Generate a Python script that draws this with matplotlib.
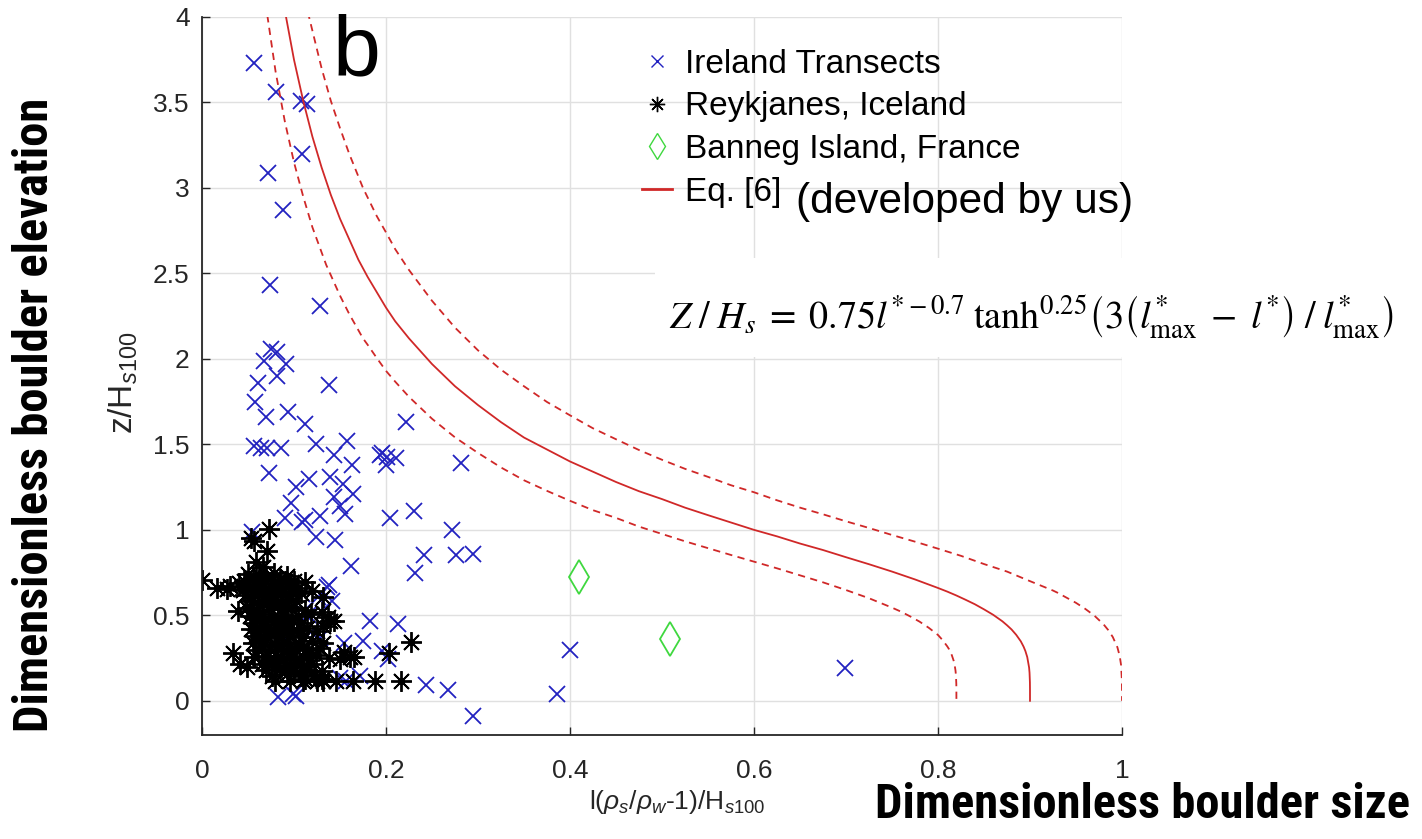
import numpy as np
import matplotlib.pyplot as plt
from matplotlib import font_manager
from matplotlib.lines import Line2D
from matplotlib.patches import Rectangle

plt.rcParams['font.family'] = ['Liberation Sans', 'DejaVu Sans']
plt.rcParams['mathtext.fontset'] = 'custom'
plt.rcParams['mathtext.rm'] = 'Liberation Sans'
plt.rcParams['mathtext.it'] = 'Liberation Sans:italic'
plt.rcParams['mathtext.bf'] = 'Liberation Sans:bold'

# Ireland transects (blue x)
ireland = [
    (0.057, 3.73), (0.080, 3.56), (0.108, 3.51), (0.114, 3.49), (0.109, 3.20), (0.072, 3.09),
    (0.088, 2.87), (0.074, 2.43), (0.128, 2.31),
    (0.075, 2.06), (0.082, 2.04), (0.067, 1.985), (0.091, 1.97), (0.082, 1.90), (0.061, 1.86),
    (0.138, 1.845), (0.058, 1.75), (0.070, 1.66), (0.094, 1.69), (0.112, 1.62), (0.222, 1.63),
    (0.056, 1.49), (0.064, 1.48), (0.071, 1.48), (0.086, 1.48), (0.124, 1.50), (0.158, 1.52),
    (0.143, 1.435), (0.163, 1.38), (0.196, 1.45), (0.193, 1.44), (0.201, 1.425), (0.211, 1.42),
    (0.200, 1.38), (0.281, 1.39),
    (0.073, 1.33), (0.116, 1.30), (0.139, 1.31), (0.102, 1.25), (0.153, 1.27), (0.164, 1.21),
    (0.144, 1.19), (0.097, 1.16), (0.150, 1.14), (0.204, 1.07), (0.230, 1.11), (0.090, 1.07),
    (0.109, 1.045), (0.112, 1.06), (0.128, 1.08), (0.155, 1.09), (0.272, 1.00),
    (0.054, 0.99), (0.124, 0.96), (0.145, 0.94), (0.241, 0.855), (0.276, 0.853), (0.295, 0.86),
    (0.232, 0.745), (0.162, 0.79), (0.138, 0.68), (0.136, 0.665), (0.141, 0.585), (0.126, 0.61),
    (0.109, 0.625), (0.110, 0.52), (0.119, 0.40), (0.077, 0.40), (0.085, 0.33),
    (0.183, 0.465), (0.213, 0.45), (0.175, 0.35), (0.154, 0.34), (0.196, 0.29), (0.202, 0.245),
    (0.400, 0.30), (0.386, 0.04), (0.295, -0.09), (0.244, 0.09), (0.267, 0.063), (0.172, 0.146),
    (0.150, 0.136), (0.157, 0.117), (0.083, 0.02), (0.099, 0.04), (0.102, 0.03), (0.699, 0.193),
    (0.128, 0.37), (0.115, 0.50),
]

# Reykjanes, Iceland (black asterisks)
iceland = [
    (0.000, 0.708), (0.016, 0.660), (0.030, 0.673), (0.027, 0.654), (0.040, 0.690), (0.045, 0.650),
    (0.073, 1.005), (0.053, 0.953), (0.056, 0.935), (0.071, 0.874), (0.059, 0.810), (0.066, 0.780),
    (0.112, 0.693), (0.090, 0.703), (0.098, 0.660), (0.132, 0.605), (0.120, 0.640), (0.137, 0.488),
    (0.143, 0.465), (0.131, 0.440), (0.130, 0.517), (0.139, 0.468), (0.150, 0.244), (0.161, 0.254),
    (0.154, 0.283), (0.165, 0.254), (0.203, 0.279), (0.227, 0.342), (0.034, 0.279), (0.041, 0.215),
    (0.049, 0.195), (0.039, 0.527),
    (0.079, 0.117), (0.096, 0.117), (0.110, 0.117), (0.125, 0.117), (0.132, 0.117), (0.146, 0.117),
    (0.164, 0.117), (0.188, 0.117), (0.216, 0.117), (0.112, 0.127), (0.130, 0.127),
    (0.050, 0.742), (0.062, 0.735), (0.078, 0.748), (0.092, 0.731),
    (0.055, 0.720), (0.070, 0.725), (0.085, 0.715),
    (0.046, 0.702), (0.058, 0.695), (0.069, 0.708), (0.083, 0.690), (0.100, 0.699),
    (0.052, 0.664), (0.064, 0.652), (0.076, 0.668), (0.088, 0.655), (0.104, 0.661),
    (0.060, 0.640), (0.072, 0.635), (0.085, 0.640), (0.098, 0.638),
    (0.047, 0.618), (0.057, 0.626), (0.071, 0.611), (0.081, 0.624), (0.095, 0.615), (0.108, 0.628),
    (0.054, 0.582), (0.066, 0.571), (0.079, 0.588), (0.091, 0.576), (0.102, 0.585),
    (0.062, 0.560), (0.075, 0.565), (0.090, 0.555),
    (0.049, 0.541), (0.060, 0.533), (0.073, 0.547), (0.086, 0.536), (0.097, 0.545), (0.112, 0.531),
    (0.052, 0.497), (0.065, 0.505), (0.077, 0.492), (0.089, 0.503), (0.104, 0.494), (0.118, 0.507),
    (0.058, 0.480), (0.072, 0.478), (0.085, 0.485), (0.098, 0.475),
    (0.056, 0.458), (0.068, 0.466), (0.082, 0.452), (0.094, 0.463), (0.108, 0.455),
    (0.053, 0.418), (0.063, 0.425), (0.075, 0.412), (0.087, 0.423), (0.099, 0.415), (0.114, 0.426),
    (0.125, 0.411),
    (0.062, 0.400), (0.078, 0.395), (0.092, 0.402), (0.105, 0.398),
    (0.058, 0.377), (0.070, 0.386), (0.084, 0.372), (0.096, 0.383), (0.110, 0.375),
    (0.055, 0.338), (0.067, 0.345), (0.079, 0.331), (0.092, 0.342), (0.105, 0.334), (0.120, 0.347),
    (0.132, 0.336),
    (0.065, 0.320), (0.082, 0.318), (0.095, 0.322), (0.110, 0.315),
    (0.061, 0.298), (0.074, 0.305), (0.088, 0.292), (0.101, 0.303), (0.115, 0.296), (0.128, 0.306),
    (0.057, 0.258), (0.069, 0.264), (0.083, 0.252), (0.097, 0.262), (0.110, 0.255), (0.124, 0.266),
    (0.138, 0.253),
    (0.072, 0.240), (0.088, 0.238), (0.102, 0.242), (0.116, 0.236),
    (0.065, 0.218), (0.078, 0.225), (0.091, 0.212), (0.106, 0.222), (0.119, 0.215),
    (0.080, 0.200), (0.095, 0.198), (0.110, 0.202),
    (0.070, 0.178), (0.085, 0.185), (0.100, 0.172), (0.114, 0.183), (0.130, 0.176),
    (0.076, 0.148), (0.092, 0.155), (0.108, 0.143), (0.122, 0.152),
]

# Banneg Island, France (green diamonds)
france = [(0.410, 0.726), (0.509, 0.363)]

# Eq. [6] curve and the two dashed bounds
eq6 = [
    (0.091, 4.01), (0.100, 3.75), (0.110, 3.51), (0.120, 3.30), (0.130, 3.12), (0.140, 2.96),
    (0.150, 2.82), (0.160, 2.70), (0.170, 2.58), (0.180, 2.48), (0.190, 2.39), (0.200, 2.30),
    (0.210, 2.22), (0.225, 2.12), (0.250, 1.97), (0.275, 1.84), (0.300, 1.73), (0.325, 1.63),
    (0.350, 1.54), (0.375, 1.47), (0.400, 1.40), (0.425, 1.34), (0.450, 1.28), (0.475, 1.226),
    (0.500, 1.18), (0.525, 1.13), (0.550, 1.086), (0.575, 1.043), (0.600, 1.00), (0.625, 0.962),
    (0.650, 0.92), (0.675, 0.882), (0.700, 0.84), (0.725, 0.799), (0.750, 0.756), (0.775, 0.710),
    (0.800, 0.66), (0.810, 0.639), (0.820, 0.616), (0.830, 0.591), (0.840, 0.565), (0.850, 0.535),
    (0.860, 0.503), (0.870, 0.465), (0.875, 0.442), (0.880, 0.417), (0.885, 0.386), (0.890, 0.348),
    (0.893, 0.317), (0.895, 0.291), (0.897, 0.256), (0.899, 0.195), (0.8995, 0.164),
    (0.8999, 0.109), (0.89999, 0.062), (0.900, 0.00),
]
eq6_low = [
    (0.071, 4.01), (0.080, 3.68), (0.090, 3.39), (0.100, 3.15), (0.110, 2.95), (0.120, 2.77),
    (0.135, 2.55), (0.150, 2.37), (0.160, 2.263), (0.175, 2.12), (0.180, 2.083), (0.190, 2.005),
    (0.200, 1.93), (0.210, 1.867), (0.225, 1.778), (0.250, 1.65), (0.275, 1.541), (0.300, 1.45),
    (0.325, 1.365), (0.350, 1.29), (0.375, 1.228), (0.400, 1.17), (0.425, 1.115), (0.450, 1.07),
    (0.475, 1.019), (0.500, 0.976), (0.525, 0.933), (0.550, 0.893), (0.575, 0.853), (0.600, 0.814),
    (0.625, 0.775), (0.650, 0.734), (0.675, 0.693), (0.700, 0.648), (0.725, 0.600), (0.750, 0.545),
    (0.760, 0.521), (0.770, 0.493), (0.780, 0.463), (0.790, 0.427), (0.795, 0.406), (0.800, 0.385),
    (0.805, 0.355), (0.810, 0.319), (0.812, 0.302), (0.815, 0.267), (0.817, 0.235), (0.818, 0.212),
    (0.819, 0.178), (0.8195, 0.150), (0.8199, 0.100), (0.81999, 0.056), (0.820, 0.00),
]
eq6_high = [
    (0.115, 4.03), (0.120, 3.92), (0.130, 3.70), (0.140, 3.51), (0.150, 3.35), (0.160, 3.20),
    (0.175, 3.00), (0.180, 2.945), (0.190, 2.835), (0.200, 2.74), (0.210, 2.642), (0.225, 2.52),
    (0.250, 2.34), (0.275, 2.183), (0.300, 2.05), (0.325, 1.937), (0.350, 1.84), (0.375, 1.748),
    (0.400, 1.67), (0.425, 1.594), (0.450, 1.53), (0.475, 1.467), (0.500, 1.41), (0.525, 1.357),
    (0.550, 1.31), (0.575, 1.261), (0.600, 1.22), (0.625, 1.173), (0.650, 1.13), (0.675, 1.091),
    (0.700, 1.05), (0.725, 1.011), (0.750, 0.97), (0.775, 0.931), (0.800, 0.89), (0.825, 0.848),
    (0.850, 0.80), (0.875, 0.756), (0.900, 0.70), (0.925, 0.645), (0.930, 0.632), (0.950, 0.573),
    (0.960, 0.538), (0.970, 0.498), (0.980, 0.447), (0.985, 0.414), (0.990, 0.373), (0.995, 0.313),
    (0.9975, 0.262), (0.999, 0.209), (0.9999, 0.117), (0.99999, 0.066), (1.000, 0.00),
]

x_ticks = [0, 0.2, 0.4, 0.6, 0.8, 1]
x_ticklabels = ['0', '0.2', '0.4', '0.6', '0.8', '1']
y_ticks = [0, 0.5, 1, 1.5, 2, 2.5, 3, 3.5, 4]
y_ticklabels = ['0', '0.5', '1', '1.5', '2', '2.5', '3', '3.5', '4']
labels = ['Ireland Transects', 'Reykjanes, Iceland', 'Banneg Island, France', 'Eq. [6]']

blue = '#2222c0'
red = '#d02828'
green = '#3fd83f'
star = (8, 2, 0)

# condensed bold face for the two big labels, if one is installed
avail = {f.name for f in font_manager.fontManager.ttflist}
narrow = None
for name in ['Liberation Sans Narrow', 'Arial Narrow', 'Roboto Condensed',
             'Open Sans Condensed', 'Noto Sans Condensed']:
    if name in avail:
        narrow = name
        break
if narrow:
    big_family, big_size = [narrow, 'Liberation Sans'], 35
else:
    big_family, big_size = ['Liberation Sans'], 29

W, H = 1422, 839
fig = plt.figure(figsize=(W / 100, H / 100), dpi=100)
ax = fig.add_axes([202 / W, 104 / H, 920 / W, 718 / H])

ire = np.array(ireland)
ice = np.array(iceland)
fra = np.array(france)
ax.plot(ire[:, 0], ire[:, 1], ls='none', marker='x', color=blue, ms=11, mew=1.3)
ax.plot(ice[:, 0], ice[:, 1], ls='none', marker=star, color='black', ms=15, mew=1.35)
ax.plot(fra[:, 0], fra[:, 1], ls='none', marker='d', mfc='none', mec=green, ms=17, mew=1.3)

for curve, style in [(eq6, '-'), (eq6_low, '--'), (eq6_high, '--')]:
    c = np.array(curve)
    line, = ax.plot(c[:, 0], c[:, 1], style, color=red, lw=1.3)
    if style == '--':
        line.set_dashes((4, 3))

ax.set_xlim(0, 1)
ax.set_ylim(-0.2, 4)
ax.set_xticks(x_ticks)
ax.set_xticklabels(x_ticklabels)
ax.set_yticks(y_ticks)
ax.set_yticklabels(y_ticklabels)
ax.tick_params(direction='in', length=6, width=1, labelsize=19, colors='#262626')
ax.tick_params(axis='x', pad=17)
ax.tick_params(axis='y', pad=9)
ax.grid(True, color='#e0e0e0', lw=1)
ax.set_axisbelow(True)
for s in ['top', 'right']:
    ax.spines[s].set_visible(False)
for s in ['left', 'bottom']:
    ax.spines[s].set_color('#262626')
    ax.spines[s].set_linewidth(1.3)

ax.set_xlabel(r'l($\rho_s$/$\rho_w$-1)/H$_{s100}$', fontsize=19, color='#262626')
ax.xaxis.set_label_coords(0.517, -0.074)
ax.set_ylabel(r'z/H$_{s100}$', fontsize=24, color='#262626')
ax.yaxis.set_label_coords(-0.067, 0.49)

handles = [
    Line2D([], [], ls='none', marker='x', color=blue, ms=8, mew=1),
    Line2D([], [], ls='none', marker=star, color='black', ms=11, mew=1),
    Line2D([], [], ls='none', marker='d', mfc='none', mec=green, ms=13, mew=1),
    Line2D([], [], color=red, lw=2),
]
ax.legend(handles, labels, loc='upper left', bbox_to_anchor=(642 / W, 1 - 49 / H),
          bbox_transform=fig.transFigure, frameon=False, fontsize=24,
          handlelength=0.9, handletextpad=0.4, labelspacing=0.345,
          borderpad=0, borderaxespad=0)

fig.text(796 / W, 1 - 213 / H, '(developed by us)', fontsize=30.5, va='baseline')
fig.text(333 / W, 1 - 75 / H, 'b', fontsize=62, va='baseline')

# white panel with the equation
fig.add_artist(Rectangle((655 / W, 1 - 357 / H), (W - 655) / W, 99 / H,
                         transform=fig.transFigure, facecolor='white',
                         edgecolor='none', zorder=2))
fig.text(669 / W, 1 - 329 / H,
         r'$Z\;/\;H_s\;=\;0.75l^{*-0.7}\;\mathrm{tanh}^{0.25}'
         r'\left(3\left(l^{*}_{\mathrm{max}}\;-\;l^{*}\right)\;/\;l^{*}_{\mathrm{max}}\right)$',
         fontsize=27.5, va='baseline', math_fontfamily='stix', zorder=3)

fig.text(1410 / W, 1 - 805 / H, 'Dimensionless boulder size', ha='right', va='center',
         fontsize=big_size, fontweight='bold', family=big_family)
fig.text(35 / W, 1 - 415 / H, 'Dimensionless boulder elevation', rotation=90,
         ha='center', va='center', fontsize=big_size, fontweight='bold',
         family=big_family)

fig.savefig('out.png', dpi=100)
